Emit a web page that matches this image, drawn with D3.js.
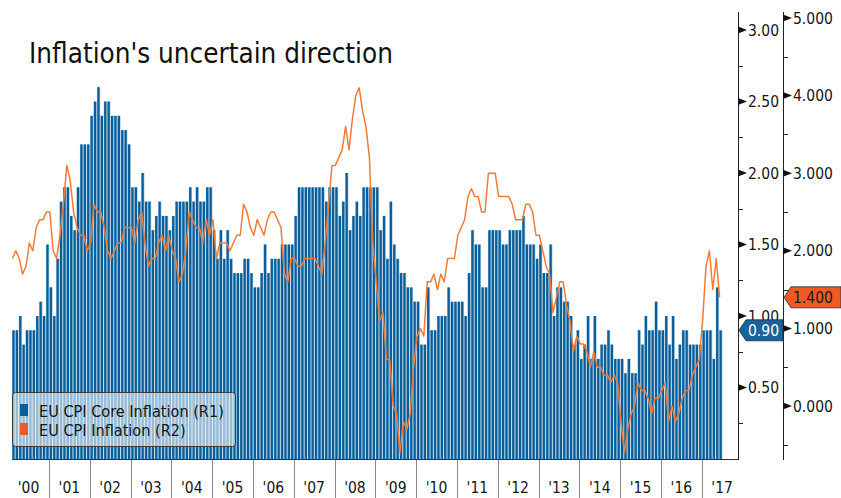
<!DOCTYPE html>
<html>
<head>
<meta charset="utf-8">
<script src="https://cdn.jsdelivr.net/npm/d3@7/dist/d3.min.js"></script>
<style>
  html, body { margin: 0; padding: 0; background: #fff; }
  svg { display: block; }
  text { font-family: "DejaVu Sans Condensed", "DejaVu Sans", sans-serif; }
</style>
</head>
<body>
<svg id="chart" width="841" height="498"></svg>
<script>
// ---------------- DATA ----------------
const title = "Inflation's uncertain direction";
const yearLabels = ["'00","'01","'02","'03","'04","'05","'06","'07","'08","'09","'10","'11","'12","'13","'14","'15","'16","'17"];

// EU CPI Core Inflation (R1), monthly, Jan 2000 - May 2017
const coreInflation = [
  0.9,0.9,1.0,0.8,0.9,0.9,0.9,1.0,1.1,1.0,1.5,1.2,   // 2000
  1.0,1.4,1.8,1.9,1.9,1.7,1.6,1.9,2.2,2.2,2.2,2.4,   // 2001
  2.5,2.6,2.4,2.5,2.5,2.4,2.4,2.4,2.3,2.3,2.2,1.9,   // 2002
  1.9,1.8,2.0,1.8,1.8,1.6,1.7,1.8,1.7,1.7,1.6,1.7,   // 2003
  1.8,1.8,1.8,1.8,1.9,1.8,1.9,1.8,1.8,1.9,1.9,1.6,   // 2004
  1.4,1.6,1.4,1.6,1.4,1.3,1.3,1.3,1.4,1.4,1.3,1.2,   // 2005
  1.2,1.3,1.5,1.3,1.4,1.4,1.4,1.5,1.5,1.5,1.5,1.7,   // 2006
  1.9,1.9,1.9,1.9,1.9,1.9,1.9,1.9,1.8,1.9,1.9,1.9,   // 2007
  1.7,1.8,2.0,1.6,1.7,1.8,1.7,1.9,1.9,1.9,1.9,1.9,   // 2008
  1.6,1.7,1.4,1.8,1.5,1.4,1.3,1.3,1.2,1.2,1.1,1.1,   // 2009
  0.8,0.8,1.2,0.9,0.9,1.0,1.0,1.0,1.2,1.1,1.1,1.1,   // 2010
  1.1,1.0,1.3,1.6,1.5,1.5,1.2,1.2,1.6,1.6,1.6,1.6,   // 2011
  1.5,1.5,1.6,1.6,1.6,1.6,1.7,1.5,1.5,1.5,1.4,1.5,   // 2012
  1.3,1.3,1.5,1.0,1.2,1.2,1.1,1.1,1.0,0.8,0.9,0.7,   // 2013
  0.8,1.0,0.7,1.0,0.7,0.8,0.8,0.9,0.8,0.7,0.7,0.7,   // 2014
  0.6,0.7,0.6,0.6,0.9,0.8,1.0,0.9,0.9,1.1,0.9,0.9,   // 2015
  1.0,0.8,1.0,0.7,0.8,0.9,0.9,0.8,0.8,0.8,0.8,0.9,   // 2016
  0.9,0.9,0.7,1.2,0.9                                // 2017
];

// EU CPI Inflation (R2), monthly, Jan 2000 - May 2017
const headlineInflation = [
  1.9,2.0,1.9,1.7,1.8,2.1,2.0,2.3,2.4,2.4,2.5,2.5,   // 2000
  2.0,1.9,2.2,2.6,3.1,2.9,2.5,2.3,2.2,2.2,2.0,2.1,   // 2001
  2.6,2.5,2.5,2.3,2.0,1.9,2.0,2.1,2.1,2.3,2.3,2.3,   // 2002
  2.1,2.4,2.5,2.1,1.8,1.9,1.9,2.1,2.2,2.0,2.2,2.0,   // 2003
  1.9,1.6,1.7,2.0,2.5,2.4,2.3,2.3,2.1,2.4,2.2,2.4,   // 2004
  1.9,2.1,2.1,2.1,2.0,2.1,2.2,2.2,2.6,2.5,2.3,2.2,   // 2005
  2.4,2.3,2.2,2.4,2.5,2.5,2.4,2.3,1.7,1.6,1.9,1.9,   // 2006
  1.8,1.8,1.9,1.9,1.9,1.9,1.8,1.7,2.1,2.6,3.1,3.1,   // 2007
  3.2,3.3,3.6,3.3,3.7,4.0,4.1,3.8,3.6,3.2,2.1,1.6,   // 2008
  1.1,1.2,0.6,0.6,0.0,-0.1,-0.6,-0.2,-0.3,-0.1,0.5,0.9, // 2009
  1.0,0.9,1.6,1.6,1.7,1.5,1.7,1.6,1.9,1.9,1.9,2.2,   // 2010
  2.3,2.4,2.7,2.8,2.7,2.7,2.5,2.5,3.0,3.0,3.0,2.7,   // 2011
  2.7,2.7,2.7,2.6,2.4,2.4,2.4,2.6,2.6,2.5,2.2,2.2,   // 2012
  2.0,1.8,1.7,1.2,1.4,1.6,1.6,1.3,1.1,0.7,0.9,0.8,   // 2013
  0.8,0.7,0.5,0.7,0.5,0.5,0.4,0.4,0.3,0.4,0.3,-0.2,  // 2014
  -0.6,-0.3,-0.1,0.0,0.3,0.2,0.2,0.1,-0.1,0.1,0.1,0.2, // 2015
  0.3,-0.2,0.0,-0.2,-0.1,0.1,0.2,0.2,0.4,0.5,0.6,1.1, // 2016
  1.8,2.0,1.5,1.9,1.4                                // 2017
];

const leftTicks = [0.5, 1.0, 1.5, 2.0, 2.5, 3.0];
const leftMinor = [0.25, 0.75, 1.25, 1.75, 2.25, 2.75];
const rightTicks = [0, 1, 2, 3, 4, 5];
const rightMinor = [-0.5, 0.5, 1.5, 2.5, 3.5, 4.5];
const legendLabels = ["EU CPI Core Inflation (R1)", "EU CPI Inflation (R2)"];

// ---------------- STYLE ----------------
const barDark = "#0a5f99";
const barLight = "#b3cfe6";
const lineColor = "#f47b35";
const flagBlue = "#19639c";
const flagOrange = "#ef5a24";
const inkColor = "#151515";
const tickFont = 15.5;

// ---------------- LAYOUT ----------------
const svg = d3.select("#chart");
const plotLeft = 12, plotBottom = 459, plotTop = 12;
const axisL = 738, axisR = 783;
const monthStep = 3.4;
const firstCenter = 13.6;
const nMonths = coreInflation.length;

const x = d3.scaleLinear().domain([0, 1]).range([firstCenter, firstCenter + monthStep]);
const yL = d3.scaleLinear().domain([0, 3.126]).range([plotBottom, plotTop]);
const yR = d3.scaleLinear().domain([-0.683, 5.077]).range([plotBottom, plotTop]);
const yearOffset = -1.6;

function fitText(sel, size, targetW) {
  sel.attr("font-size", size);
  const w = sel.node().getComputedTextLength();
  sel.attr("font-size", size * targetW / w);
}

// ---------------- BARS ----------------
const bars = svg.append("g");
bars.selectAll("rect.light").data(coreInflation).join("rect")
  .attr("class", "light")
  .attr("x", (d, i) => x(i) - monthStep / 2)
  .attr("width", monthStep)
  .attr("y", d => yL(d))
  .attr("height", d => yL(0) - yL(d))
  .attr("fill", barLight);
bars.selectAll("rect.dark").data(coreInflation).join("rect")
  .attr("class", "dark")
  .attr("x", (d, i) => x(i) - 1.3)
  .attr("width", 2.3)
  .attr("y", d => yL(d))
  .attr("height", d => yL(0) - yL(d))
  .attr("fill", barDark);

// ---------------- LINE ----------------
const line = d3.line().x((d, i) => x(i) - 1.2).y(d => yR(d));
svg.append("path").datum(headlineInflation)
  .attr("d", line)
  .attr("fill", "none")
  .attr("stroke", lineColor)
  .attr("stroke-width", 1.5)
  .attr("stroke-linejoin", "round");

// ---------------- X AXIS ----------------
const xa = svg.append("g");
xa.append("line").attr("x1", plotLeft).attr("x2", axisL)
  .attr("y1", plotBottom + 0.5).attr("y2", plotBottom + 0.5)
  .attr("stroke", "#333").attr("stroke-width", 1);
yearLabels.forEach((lab, k) => {
  const x0 = x(12 * k + yearOffset);
  const x1 = x(12 * (k + 1) + yearOffset);
  if (k > 0) {
    xa.append("line").attr("x1", Math.round(x0) + 0.5).attr("x2", Math.round(x0) + 0.5)
      .attr("y1", plotBottom + 1).attr("y2", 498)
      .attr("stroke", "#8a8a8a").attr("stroke-width", 1);
  }
  xa.append("text").attr("x", (x0 + x1) / 2).attr("y", 493)
    .attr("text-anchor", "middle").attr("font-size", tickFont).attr("fill", inkColor)
    .text(lab);
});

// ---------------- Y AXES ----------------
function drawAxis(ax, scale, majors, minors, fmt) {
  const g = svg.append("g");
  g.append("line").attr("x1", ax + 0.5).attr("x2", ax + 0.5)
    .attr("y1", plotTop).attr("y2", plotBottom + 1)
    .attr("stroke", "#222").attr("stroke-width", 1);
  minors.forEach(v => {
    const yy = Math.round(scale(v)) + 0.5;
    g.append("line").attr("x1", ax).attr("x2", ax + 5)
      .attr("y1", yy).attr("y2", yy).attr("stroke", "#222").attr("stroke-width", 1);
  });
  majors.forEach(v => {
    const yy = scale(v);
    g.append("path")
      .attr("d", `M${ax},${yy - 3.5}L${ax + 9},${yy}L${ax},${yy + 3.5}Z`)
      .attr("fill", "#111");
    g.append("text").attr("x", ax + 10).attr("y", yy)
      .attr("dy", "0.36em").attr("font-size", tickFont).attr("fill", inkColor)
      .text(fmt(v));
  });
}
drawAxis(axisL, yL, leftTicks, leftMinor, d3.format(".2f"));
drawAxis(axisR, yR, rightTicks, rightMinor, d3.format(".3f"));

// ---------------- VALUE FLAGS ----------------
function flag(xTip, xEnd, yc, fill, textFill, label) {
  const h = 10.5;
  svg.append("path")
    .attr("d", `M${xTip},${yc}L${xTip + 7},${yc - h}L${xEnd},${yc - h}L${xEnd},${yc + h}L${xTip + 7},${yc + h}Z`)
    .attr("fill", fill).attr("stroke", "#1d2b36").attr("stroke-width", 0.8);
  svg.append("text").attr("x", xTip + 9).attr("y", yc).attr("dy", "0.36em")
    .attr("font-size", tickFont).attr("fill", textFill).text(label);
}
const lastCore = coreInflation[nMonths - 1];
const lastHead = headlineInflation[headlineInflation.length - 1];
flag(axisL + 1, axisR, yL(lastCore), flagBlue, "#ffffff", d3.format(".2f")(lastCore));
flag(axisR + 1, 841, yR(lastHead), flagOrange, "#1a1a1a", d3.format(".3f")(lastHead));

// ---------------- LEGEND ----------------
const lg = svg.append("g");
lg.append("rect").attr("x", 12.5).attr("y", 392.5).attr("width", 223).attr("height", 54)
  .attr("rx", 3).attr("fill", "#eef4fa").attr("fill-opacity", 0.62)
  .attr("stroke", "#3a3a3a").attr("stroke-width", 1);
const legendTexts = [];
[barDark, flagOrange].forEach((c, k) => {
  lg.append("rect").attr("x", 20).attr("y", 404 + k * 19).attr("width", 8).attr("height", 12)
    .attr("fill", c);
  legendTexts.push(lg.append("text").attr("x", 39).attr("y", 416.5 + k * 19)
    .attr("fill", inkColor).text(legendLabels[k]));
});
fitText(legendTexts[0], 15, 185);
legendTexts[1].attr("font-size", legendTexts[0].attr("font-size"));

// ---------------- TITLE ----------------
const tt = svg.append("text").attr("x", 29).attr("y", 63)
  .attr("fill", "#111").text(title);
fitText(tt, 26, 364);
</script>
</body>
</html>
